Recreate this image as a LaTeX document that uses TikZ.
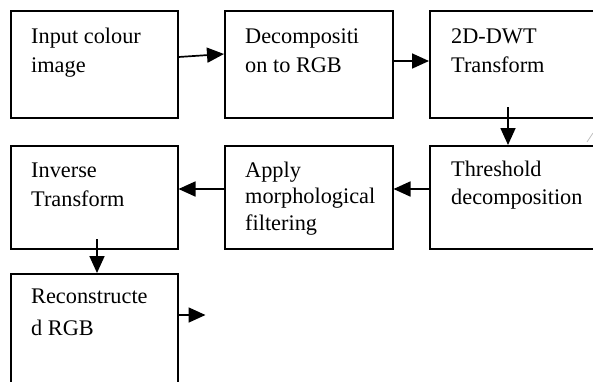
\documentclass[tikz,border=0pt]{standalone}
\usepackage{fontspec}
\setmainfont{Liberation Serif}
\usetikzlibrary{arrows.meta,calc}
\begin{document}
\begin{tikzpicture}[x=1pt,y=-1pt,
  box/.style={draw=black,line width=1.5pt,rectangle,inner sep=0pt,anchor=north west},
  lbl/.style={anchor=base west,inner sep=0pt,align=left,font=\fontsize{22.3}{29}\selectfont},
  conn/.style={line width=1.7pt,-{Triangle[length=17pt,width=15pt]}}]
\useasboundingbox (0,0) rectangle (593,381);
\clip (0,0) rectangle (593,381);
\fill[white] (0,0) rectangle (593,381);
% boxes
\node[box,minimum width=167pt,minimum height=107pt] (b1) at (10,10) {};
\node[box,minimum width=168pt,minimum height=107pt] (b2) at (224,10) {};
\node[box,minimum width=180pt,minimum height=107pt] (b3) at (429,10) {};
\node[box,minimum width=180pt,minimum height=103pt] (b4) at (429,145) {};
\node[box,minimum width=168pt,minimum height=103pt] (b5) at (224,145) {};
\node[box,minimum width=167pt,minimum height=103pt] (b6) at (10,145) {};
\node[box,minimum width=167pt,minimum height=130pt] (b7) at (10,273) {};
% labels (anchored at the baseline of the last line)
\node[lbl] (t1) at (31,72) {Input colour\\image};
\node[lbl] (t2) at (245,72) {Decompositi\\on to RGB};
\node[lbl] (t3) at (451,72) {2D-DWT\\Transform};
\node[lbl,font=\fontsize{22.3}{28}\selectfont] (t4) at (451,204) {Threshold\\decomposition};
\node[lbl,font=\fontsize{22.3}{26.5}\selectfont] (t5) at (245,230) {Apply\\morphological\\filtering};
\node[lbl] (t6) at (31,206) {Inverse\\Transform};
\node[lbl,font=\fontsize{22.3}{32}\selectfont] (t7) at (31,335) {Reconstructe\\d RGB};
% connectors
\draw[conn] ($(b1.north east)+(0,47)$) -- ($(b2.north west)+(0,44)$);
\draw[conn] ($(b2.north east)+(0,51)$) -- ($(b3.north west)+(0,51)$);
\coordinate (s3) at ($(b3.north west)+(79,97)$);
\draw[conn] (s3) -- (s3 |- b4.north);
\draw[conn] ($(b4.north west)+(0,44)$) -- ($(b5.north east)+(0,44)$);
\draw[conn] ($(b5.north west)+(0,44)$) -- ($(b6.north east)+(0,44)$);
\coordinate (s6) at ($(b6.north west)+(87,94)$);
\draw[conn] (s6) -- (s6 |- b7.north);
\coordinate (e7) at ($(b7.north east)+(27,42)$);
\draw[conn] ($(b7.north east)+(0,42)$) -- (e7);
% faint mark
\coordinate (g1) at (587,142);
\coordinate (g2) at (593,133);
\draw[gray!50,line width=0.8pt] (g1) -- (g2);
\end{tikzpicture}
\end{document}
